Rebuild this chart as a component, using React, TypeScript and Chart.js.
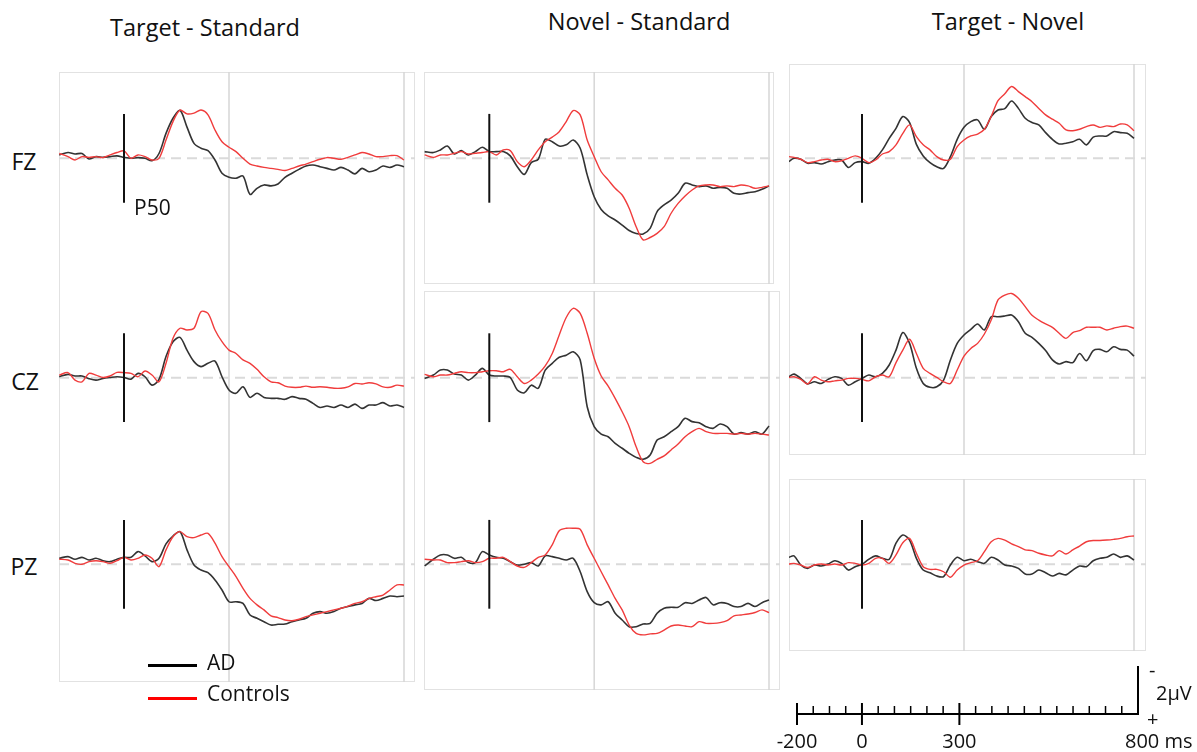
import React, { useEffect, useRef } from 'react';
import { Chart, registerables } from 'chart.js';

Chart.register(...registerables);

// ---------- DATA (µV, negative plotted upward) ----------
const columnTitles = ['Target - Standard', 'Novel - Standard', 'Target - Novel'];
const electrodes = ['FZ', 'CZ', 'PZ'];
const groupNames = ['AD', 'Controls'];

// time points (ms) for the first two columns and for the third column
const times12 = [-185, -160, -140, -120, -100, -80, -60, -40, -20, 0, 20, 40, 60, 80, 100, 120, 140, 160, 180, 200, 220, 240, 260, 280, 300, 320, 340, 360, 380, 400, 420, 440, 460, 480, 500, 520, 540, 560, 580, 600, 620, 640, 660, 680, 700, 720, 740, 760, 780, 800];
const times3 = [-215, -200, -180, -160, -140, -120, -100, -80, -60, -40, -20, 0, 20, 40, 60, 80, 100, 120, 140, 160, 180, 200, 220, 240, 260, 280, 300, 320, 340, 360, 380, 400, 420, 440, 460, 480, 500, 520, 540, 560, 580, 600, 620, 640, 660, 680, 700, 720, 740, 760, 780, 800];

// Target - Standard
const tsFzAD = [-0.14, -0.24, -0.18, -0.2, 0.03, -0.07, -0.04, -0.07, -0.1, -0.04, 0, -0.03, 0, 0.1, -0.2, -1.04, -1.67, -2.0, -1.3, -0.62, -0.42, -0.32, 0.07, 0.62, 0.79, 0.83, 0.74, 1.5, 1.25, 1.11, 1.15, 1.07, 0.79, 0.62, 0.46, 0.32, 0.28, 0.35, 0.42, 0.49, 0.38, 0.49, 0.65, 0.42, 0.56, 0.49, 0.32, 0.38, 0.28, 0.35];
const tsFzCtl = [-0.2, -0.07, 0.07, -0.07, -0.04, -0.07, -0.03, -0.14, -0.24, -0.31, 0, -0.14, -0.07, 0.07, 0, -0.76, -1.53, -2.01, -1.85, -1.88, -2.01, -1.81, -1.18, -0.69, -0.46, -0.28, 0, 0.24, 0.32, 0.38, 0.42, 0.46, 0.51, 0.42, 0.32, 0.24, 0.14, 0.04, -0.03, 0, 0.04, -0.04, -0.14, -0.24, -0.18, -0.07, -0.07, -0.11, -0.11, 0.07];
const tsCzAD = [-0.04, -0.14, -0.07, -0.07, 0.04, 0.1, 0.03, -0.01, -0.04, -0.01, 0.06, -0.18, -0.04, 0.31, 0.07, -0.88, -1.5, -1.68, -1.15, -0.67, -0.46, -0.6, -0.69, -0.04, 0.51, 0.65, 0.38, 0.82, 0.65, 0.82, 0.86, 0.86, 0.9, 0.79, 0.86, 0.9, 1.07, 1.24, 1.18, 1.24, 1.14, 1.24, 1.1, 1.28, 1.14, 1.14, 1.04, 1.18, 1.14, 1.24];
const tsCzCtl = [-0.11, -0.21, 0.1, 0.17, -0.18, -0.11, -0.01, -0.07, -0.22, -0.21, -0.18, -0.04, -0.28, -0.11, 0.17, -0.6, -1.64, -2.06, -1.99, -2.06, -2.75, -2.68, -1.99, -1.5, -1.15, -1.01, -0.74, -0.6, -0.35, -0.04, 0.17, 0.21, 0.35, 0.4, 0.4, 0.35, 0.4, 0.38, 0.4, 0.44, 0.44, 0.38, 0.24, 0.26, 0.21, 0.26, 0.38, 0.4, 0.31, 0.35];
const tsPzAD = [-0.25, -0.32, -0.21, -0.29, -0.18, -0.25, -0.15, -0.11, -0.21, -0.29, -0.29, -0.53, -0.35, -0.11, -0.25, -0.85, -1.18, -1.36, -0.6, 0.03, 0.24, 0.35, 0.65, 1.07, 1.56, 1.56, 1.63, 2.11, 2.25, 2.39, 2.53, 2.5, 2.49, 2.39, 2.32, 2.25, 2.04, 1.97, 2.04, 1.97, 1.83, 1.76, 1.69, 1.63, 1.42, 1.51, 1.42, 1.32, 1.35, 1.32];
const tsPzCtl = [-0.21, -0.18, -0.04, 0, -0.11, -0.15, -0.11, -0.04, -0.15, -0.29, -0.18, -0.25, -0.39, -0.25, 0.1, -0.6, -1.15, -1.36, -1.15, -1.11, -1.22, -1.29, -0.88, -0.32, 0.1, 0.51, 1, 1.42, 1.69, 1.9, 2.15, 2.22, 2.32, 2.35, 2.29, 2.18, 2.11, 2.04, 1.97, 1.9, 1.83, 1.74, 1.63, 1.56, 1.42, 1.35, 1.28, 1.07, 0.86, 0.86];

// Novel - Standard
const nsFzAD = [-0.28, -0.24, -0.35, -0.51, -0.18, -0.32, -0.14, -0.28, -0.46, -0.28, -0.28, -0.28, -0.1, 0.35, 0.67, 0.18, 0.04, -0.79, -0.69, -0.51, -0.56, -0.76, -0.42, 0.69, 1.6, 2.13, 2.4, 2.57, 2.78, 3.01, 3.13, 3.15, 2.92, 2.22, 1.94, 1.74, 1.46, 1.04, 1.11, 1.18, 1.15, 1.25, 1.21, 1.25, 1.46, 1.49, 1.43, 1.39, 1.29, 1.15];
const nsFzCtl = [-0.14, -0.04, -0.14, -0.14, -0.21, -0.28, -0.18, -0.21, -0.24, -0.28, -0.14, -0.35, -0.32, 0.14, 0.35, 0.07, -0.35, -0.69, -0.88, -1.11, -1.53, -1.99, -1.81, -0.76, -0.07, 0.56, 0.9, 1.25, 1.53, 2.08, 2.85, 3.4, 3.3, 3.13, 2.85, 2.29, 1.88, 1.57, 1.32, 1.15, 1.11, 1.11, 1.18, 1.15, 1.18, 1.11, 1.15, 1.25, 1.21, 1.15];
const nsCzAD = [0.03, -0.11, -0.32, -0.32, -0.15, -0.11, 0.1, -0.11, -0.39, -0.11, -0.07, -0.07, -0.01, 0.51, 0.63, 0.31, 0.44, -0.32, -0.6, -0.85, -0.94, -1.08, -0.74, 1.21, 2.04, 2.35, 2.46, 2.74, 2.94, 3.15, 3.32, 3.4, 3.22, 2.6, 2.46, 2.25, 2.04, 1.69, 1.83, 1.88, 2.04, 2.11, 1.93, 2.04, 2.35, 2.29, 2.35, 2.25, 2.35, 2.01];
const nsCzCtl = [-0.14, -0.04, -0.11, -0.11, -0.18, -0.25, -0.21, -0.21, -0.25, -0.29, -0.29, -0.25, -0.35, -0.04, 0.24, 0.1, -0.15, -0.49, -1.01, -1.78, -2.51, -2.89, -2.68, -1.85, -0.81, -0.07, 0.35, 0.86, 1.42, 2.04, 2.88, 3.5, 3.57, 3.4, 3.26, 3.01, 2.76, 2.46, 2.25, 2.11, 2.25, 2.32, 2.32, 2.32, 2.35, 2.32, 2.35, 2.32, 2.35, 2.39];
const nsPzAD = [0.07, -0.21, -0.39, -0.39, -0.25, -0.29, -0.07, -0.07, -0.53, -0.39, -0.29, -0.25, -0.11, 0.03, 0, -0.07, 0.07, -0.35, -0.32, -0.25, -0.18, -0.25, 0.31, 1.14, 1.6, 1.69, 1.56, 2.04, 2.32, 2.6, 2.6, 2.49, 2.46, 2.04, 1.83, 1.79, 1.79, 1.6, 1.63, 1.49, 1.38, 1.69, 1.6, 1.63, 1.76, 1.76, 1.63, 1.76, 1.6, 1.49];
const nsPzCtl = [-0.21, -0.18, -0.18, -0.07, -0.07, -0.11, -0.15, -0.07, -0.11, -0.25, -0.25, -0.29, -0.11, 0.07, 0.13, -0.07, -0.29, -0.39, -0.81, -1.4, -1.5, -1.5, -1.46, -0.81, -0.25, 0.31, 0.86, 1.42, 1.9, 2.53, 2.88, 2.94, 2.9, 2.88, 2.74, 2.57, 2.53, 2.57, 2.6, 2.39, 2.46, 2.46, 2.43, 2.35, 2.15, 2.11, 2.07, 2.01, 1.9, 2.01];

// Target - Novel
const tnFzAD = [0.14, 0, 0.04, 0.21, 0.18, 0.24, 0.14, 0.07, 0.07, 0.38, 0.18, 0.14, 0.21, 0, -0.35, -0.83, -1.25, -1.74, -1.49, -0.58, -0.1, 0.18, 0.35, 0.42, -0.07, -0.79, -1.29, -1.53, -1.6, -1.21, -1.74, -2.01, -2.07, -2.39, -2.08, -1.67, -1.49, -1.39, -1.07, -0.79, -0.6, -0.63, -0.69, -0.79, -0.56, -0.88, -0.93, -0.93, -1.11, -1.07, -1.04, -0.83];
const tnFzCtl = [-0.07, -0.04, 0.04, 0.18, 0.14, 0.07, 0.04, 0.14, 0.1, 0, -0.1, 0, 0.18, 0.07, -0.18, -0.28, -0.56, -1.04, -1.39, -0.9, -0.56, -0.35, -0.07, 0.07, 0.04, -0.49, -0.76, -0.93, -1.01, -1.21, -1.74, -2.4, -2.69, -2.99, -2.78, -2.57, -2.36, -2.08, -1.81, -1.63, -1.46, -1.18, -1.15, -1.21, -1.32, -1.39, -1.29, -1.35, -1.32, -1.43, -1.39, -1.15];
const tnCzAD = [-0.04, -0.15, 0.03, 0.26, 0.17, 0.24, 0.07, -0.04, 0.03, 0.31, 0.17, 0.03, -0.11, -0.04, -0.18, -0.53, -1.15, -1.88, -1.43, -0.39, 0.24, 0.4, 0.38, 0.1, -0.74, -1.43, -1.78, -2.01, -2.24, -1.99, -2.54, -2.54, -2.57, -2.61, -2.33, -1.85, -1.68, -1.43, -1.13, -0.74, -0.57, -0.67, -0.63, -1.01, -0.71, -1.13, -1.18, -1.08, -1.29, -1.18, -1.15, -0.9];
const tnCzCtl = [-0.01, -0.04, 0.07, 0.26, -0.04, 0.1, 0.17, 0.13, 0.1, 0.03, 0.03, 0.07, 0.13, -0.04, -0.11, -0.04, -0.63, -1.15, -1.6, -1.01, -0.39, -0.18, -0.01, 0.17, 0.24, -0.32, -0.9, -1.22, -1.43, -1.82, -2.4, -3.24, -3.44, -3.51, -3.31, -2.96, -2.6, -2.4, -2.24, -2.1, -1.85, -1.64, -1.88, -1.96, -2.1, -2.1, -2.1, -1.99, -2.06, -2.13, -2.15, -2.06];
const tnPzAD = [-0.29, -0.35, 0.03, 0.17, 0.03, 0.07, -0.01, -0.15, -0.04, 0.24, 0.1, 0, -0.21, -0.35, -0.25, -0.21, -0.88, -1.22, -1.01, -0.25, 0.24, 0.35, 0.49, 0.51, 0.03, -0.29, -0.15, -0.21, -0.11, -0.04, -0.29, -0.18, 0.03, 0.07, 0.17, 0.4, 0.4, 0.24, 0.35, 0.49, 0.38, 0.44, 0.24, 0.07, 0.1, -0.15, -0.25, -0.29, -0.43, -0.29, -0.35, -0.18];
const tnPzCtl = [-0.01, -0.04, 0.03, 0.13, 0.03, -0.01, 0.03, -0.01, 0.03, -0.07, -0.04, 0.03, -0.04, -0.25, -0.25, -0.04, -0.39, -0.9, -1.08, -0.46, 0.1, 0.21, 0.21, 0.31, 0.54, 0.24, 0.03, -0.07, -0.15, -0.53, -0.94, -1.08, -1.01, -0.85, -0.74, -0.6, -0.57, -0.46, -0.39, -0.35, -0.57, -0.43, -0.6, -0.76, -0.94, -0.99, -0.99, -1.01, -1.04, -1.08, -1.15, -1.18];

// vertical reference times (ms) and the stimulus marker half-height (µV)
const refTimes = [300, 800];
const markerHalf = 1.85;

// scale bar
const scaleTickLabels = ['-200', '0', '300', '800'];
const scaleTickValues = [-200, 0, 300, 850];
const scaleBarUV = 2;

// ---------- LAYOUT ----------
const PX_PER_UV = 24;
const FONT = '"Open Sans", "DejaVu Sans", sans-serif';
const AD_COLOR = '#333333';
const CTL_COLOR = '#f03c3c';
const GRID_COLOR = '#d6d6d6';
const FRAME_COLOR = '#e2e2e2';

const colGeom = [
  { x0: 124, x800: 404 },
  { x0: 489.3, x800: 769 },
  { x0: 862, x800: 1134 },
];
const baselines = [158.3, 377.7, 564.3];

type PanelDef = {
  col: number; row: number; left: number; right: number; top: number; bottom: number;
  times: number[]; ad: number[]; ctl: number[];
};

const panels: PanelDef[] = [
  { col: 0, row: 0, left: 59, right: 415, top: 72, bottom: 268, times: times12, ad: tsFzAD, ctl: tsFzCtl },
  { col: 0, row: 1, left: 59, right: 415, top: 268, bottom: 471, times: times12, ad: tsCzAD, ctl: tsCzCtl },
  { col: 0, row: 2, left: 59, right: 415, top: 471, bottom: 682, times: times12, ad: tsPzAD, ctl: tsPzCtl },
  { col: 1, row: 0, left: 424, right: 774, top: 72, bottom: 284, times: times12, ad: nsFzAD, ctl: nsFzCtl },
  { col: 1, row: 1, left: 424, right: 780, top: 291, bottom: 471, times: times12, ad: nsCzAD, ctl: nsCzCtl },
  { col: 1, row: 2, left: 424, right: 780, top: 471, bottom: 690, times: times12, ad: nsPzAD, ctl: nsPzCtl },
  { col: 2, row: 0, left: 789, right: 1146, top: 64, bottom: 268, times: times3, ad: tnFzAD, ctl: tnFzCtl },
  { col: 2, row: 1, left: 789, right: 1146, top: 268, bottom: 455, times: times3, ad: tnCzAD, ctl: tnCzCtl },
  { col: 2, row: 2, left: 789, right: 1146, top: 479, bottom: 651, times: times3, ad: tnPzAD, ctl: tnPzCtl },
];

const frames = [
  [59, 72, 415, 682],
  [424, 72, 774, 284],
  [424, 291, 780, 690],
  [789, 64, 1146, 455],
  [789, 479, 1146, 651],
];

const panelDecor = {
  id: 'panelDecor',
  beforeDatasetsDraw(chart: any) {
    const { ctx, chartArea: a, scales } = chart;
    const xs = scales.x, ys = scales.y;
    ctx.save();
    ctx.strokeStyle = GRID_COLOR;
    ctx.lineWidth = 1.5;
    refTimes.forEach((t) => {
      const x = xs.getPixelForValue(t);
      ctx.beginPath(); ctx.moveTo(x, a.top); ctx.lineTo(x, a.bottom); ctx.stroke();
    });
    const y0 = ys.getPixelForValue(0);
    ctx.setLineDash([10, 6]);
    ctx.strokeStyle = '#dadada';
    ctx.lineWidth = 2;
    ctx.beginPath(); ctx.moveTo(a.left, y0); ctx.lineTo(a.right, y0); ctx.stroke();
    ctx.restore();
  },
  afterDatasetsDraw(chart: any) {
    const { ctx, scales } = chart;
    const x = scales.x.getPixelForValue(0);
    ctx.save();
    ctx.strokeStyle = '#111111';
    ctx.lineWidth = 2;
    ctx.beginPath();
    ctx.moveTo(x, scales.y.getPixelForValue(-markerHalf));
    ctx.lineTo(x, scales.y.getPixelForValue(markerHalf));
    ctx.stroke();
    ctx.restore();
  },
};

function Panel({ p }: { p: PanelDef }) {
  const ref = useRef<HTMLCanvasElement>(null);
  const w = p.right - p.left;
  const h = p.bottom - p.top;
  useEffect(() => {
    const g = colGeom[p.col];
    const k = (g.x800 - g.x0) / 800;
    const xmin = (p.left - g.x0) / k;
    const xmax = (p.right - g.x0) / k;
    const b = baselines[p.row];
    const ymin = -(b - p.top) / PX_PER_UV;
    const ymax = (p.bottom - b) / PX_PER_UV;
    const mk = (vals: number[]) => p.times.map((t, i) => ({ x: t, y: vals[i] }));
    const chart = new Chart(ref.current as HTMLCanvasElement, {
      type: 'line',
      data: {
        datasets: [
          { label: groupNames[1], data: mk(p.ctl), borderColor: CTL_COLOR, borderWidth: 1.4, pointRadius: 0, tension: 0.3, fill: false },
          { label: groupNames[0], data: mk(p.ad), borderColor: AD_COLOR, borderWidth: 1.6, pointRadius: 0, tension: 0.3, fill: false },
        ],
      },
      options: {
        animation: false,
        responsive: false,
        devicePixelRatio: 1,
        layout: { padding: 0 },
        plugins: { legend: { display: false }, tooltip: { enabled: false } },
        scales: {
          x: { type: 'linear', min: xmin, max: xmax, display: false },
          y: { type: 'linear', min: ymin, max: ymax, reverse: true, display: false },
        },
      },
      plugins: [panelDecor],
    } as any);
    return () => chart.destroy();
  }, []);
  return (
    <canvas ref={ref} width={w} height={h}
      style={{ position: 'absolute', left: p.left, top: p.top, width: w, height: h }} />
  );
}

const scaleDecor = {
  id: 'scaleDecor',
  afterDraw(chart: any) {
    const { ctx, scales } = chart;
    const xs = scales.x, ys = scales.y;
    const y0 = ys.getPixelForValue(0);
    const xStart = xs.getPixelForValue(scaleTickValues[0]);
    const xEnd = xs.getPixelForValue(scaleTickValues[scaleTickValues.length - 1]);
    ctx.save();
    ctx.strokeStyle = '#000';
    ctx.lineWidth = 2;
    ctx.beginPath(); ctx.moveTo(xStart, y0); ctx.lineTo(xEnd + 1, y0); ctx.stroke();
    // µV bar
    ctx.beginPath(); ctx.moveTo(xEnd, y0); ctx.lineTo(xEnd, ys.getPixelForValue(-scaleBarUV)); ctx.stroke();
    // ticks every 50 ms
    for (let t = scaleTickValues[0]; t < scaleTickValues[scaleTickValues.length - 1]; t += 50) {
      const x = xs.getPixelForValue(t);
      const major = scaleTickValues.indexOf(t) >= 0;
      ctx.lineWidth = major ? 2 : 1.5;
      ctx.beginPath();
      ctx.moveTo(x, major ? y0 - 11 : y0 - 8);
      ctx.lineTo(x, major ? y0 + 11 : y0);
      ctx.stroke();
    }
    ctx.fillStyle = '#111';
    ctx.font = '20px ' + FONT;
    ctx.textBaseline = 'middle';
    ctx.textAlign = 'center';
    scaleTickLabels.slice(0, -1).forEach((lab, i) => {
      ctx.fillText(lab, xs.getPixelForValue(scaleTickValues[i]), y0 + 28);
    });
    ctx.textAlign = 'left';
    ctx.fillText(scaleTickLabels[scaleTickLabels.length - 1] + ' ms', xEnd - 13, y0 + 28);
    ctx.fillText('-', xEnd + 11, ys.getPixelForValue(-scaleBarUV) + 5);
    ctx.fillText('2\u00B5V', xEnd + 18, ys.getPixelForValue(-scaleBarUV / 2) + 4);
    ctx.fillText('+', xEnd + 9, y0 + 6);
    ctx.restore();
  },
};

function ScaleBar() {
  const ref = useRef<HTMLCanvasElement>(null);
  const left = 760, top = 650, w = 437, h = 102;
  useEffect(() => {
    const k = (1138 - 797) / 1050;
    const xmin = -200 - (797 - left) / k;
    const xmax = xmin + w / k;
    const zeroY = 714;
    const chart = new Chart(ref.current as HTMLCanvasElement, {
      type: 'line',
      data: { datasets: [] },
      options: {
        animation: false,
        responsive: false,
        devicePixelRatio: 1,
        layout: { padding: 0 },
        plugins: { legend: { display: false }, tooltip: { enabled: false } },
        scales: {
          x: { type: 'linear', min: xmin, max: xmax, display: false },
          y: { type: 'linear', min: -(zeroY - top) / PX_PER_UV, max: (top + h - zeroY) / PX_PER_UV, reverse: true, display: false },
        },
      },
      plugins: [scaleDecor],
    } as any);
    return () => chart.destroy();
  }, []);
  return <canvas ref={ref} width={w} height={h} style={{ position: 'absolute', left, top, width: w, height: h }} />;
}

const textStyle = (x: number, y: number, size: number, center = true): React.CSSProperties => ({
  position: 'absolute', left: x, top: y, fontFamily: FONT, fontSize: size, lineHeight: 1,
  color: '#111', whiteSpace: 'nowrap', transform: center ? 'translate(-50%, -50%)' : 'translate(0, -50%)',
});

export default function App() {
  const titlePos = [[205, 28], [639, 22], [1008, 22]];
  const rowPos = [[24, 161], [25, 381], [24, 566]];
  return (
    <div style={{ position: 'absolute', left: 0, top: 0, width: 1197, height: 752, background: '#fff', overflow: 'hidden' }}>
      {frames.map((f, i) => (
        <div key={'f' + i} style={{ position: 'absolute', left: f[0], top: f[1], width: f[2] - f[0], height: f[3] - f[1], border: '1px solid ' + FRAME_COLOR, boxSizing: 'border-box' }} />
      ))}
      {panels.map((p, i) => <Panel key={'p' + i} p={p} />)}
      {columnTitles.map((t, i) => <div key={'t' + i} style={textStyle(titlePos[i][0], titlePos[i][1], 23.5)}>{t}</div>)}
      {electrodes.map((e, i) => <div key={'e' + i} style={textStyle(rowPos[i][0], rowPos[i][1], 23)}>{e}</div>)}
      <div style={textStyle(134, 207, 21, false)}>P50</div>
      <div style={{ position: 'absolute', left: 148, top: 664, width: 49, height: 3, background: '#000' }} />
      <div style={{ position: 'absolute', left: 148, top: 697, width: 49, height: 3, background: '#ff0000' }} />
      <div style={textStyle(207, 662, 21, false)}>{groupNames[0]}</div>
      <div style={textStyle(207, 693, 21, false)}>{groupNames[1]}</div>
      <ScaleBar />
    </div>
  );
}
